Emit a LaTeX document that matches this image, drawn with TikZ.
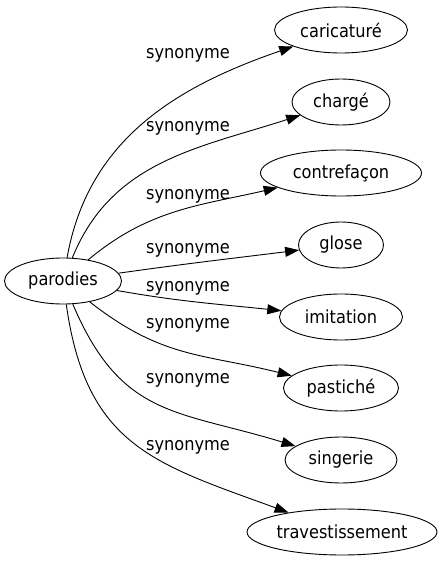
\documentclass[tikz,border=0pt]{standalone}
\usepackage{fontspec}
\setmainfont{DejaVu Sans Condensed}
\usetikzlibrary{shapes.geometric, arrows.meta}
\tikzstyle{word} = [ellipse, draw, line width=0.9pt, minimum height=46pt, inner sep=1pt, font=\fontsize{18}{20}\selectfont]
\tikzstyle{rel} = [inner sep=0pt, font=\fontsize{18}{20}\selectfont]
\tikzstyle{arrow} = [line width=0.9pt, -{Triangle[length=14pt,width=10pt]}]
\begin{document}
\begin{tikzpicture}[x=1pt,y=1pt]
            \useasboundingbox (0,0) rectangle (440,563);
            \node [word, minimum width=117pt] at (63,282) (parodies) {parodies};
            \node [word, minimum width=133pt] at (341,533) (caricature) {caricaturé};
            \node [word, minimum width=98pt] at (341,461) (charge) {chargé};
            \node [word, minimum width=161pt] at (341,390) (contrefacon) {contrefaçon};
            \node [word, minimum width=85pt] at (341,318) (glose) {glose};
            \node [word, minimum width=123pt] at (341,246) (imitation) {imitation};
            \node [word, minimum width=115pt] at (341,175) (pastiche) {pastiché};
            \node [word, minimum width=112pt] at (341,103) (singerie) {singerie};
            \node [word, minimum width=190pt] at (342,31) (travestissement) {travestissement};
            \node [rel] at (188,508) (l1) {synonyme};
            \node [rel] at (188,435) (l2) {synonyme};
            \node [rel] at (188,367) (l3) {synonyme};
            \node [rel] at (188,313) (l4) {synonyme};
            \node [rel] at (188,275) (l5) {synonyme};
            \node [rel] at (188,238) (l6) {synonyme};
            \node [rel] at (188,183) (l7) {synonyme};
            \node [rel] at (188,116) (l8) {synonyme};
            \draw [arrow] (parodies) to[out=80, in=199] (caricature);
            \draw [arrow] (parodies) to[out=68, in=198] (charge);
            \draw [arrow] (parodies) to[out=40, in=193] (contrefacon);
            \draw [arrow] (parodies) to[out=8, in=187] (glose);
            \draw [arrow] (parodies) to[out=-10, in=174] (imitation);
            \draw [arrow] (parodies) to[out=-38, in=166, looseness=1.1] (pastiche);
            \draw [arrow] (parodies) to[out=-67, in=163, looseness=1.2] (singerie);
            \draw [arrow] (parodies) to[out=-82, in=160, looseness=1.2] (travestissement);
            \end{tikzpicture}
\end{document}
